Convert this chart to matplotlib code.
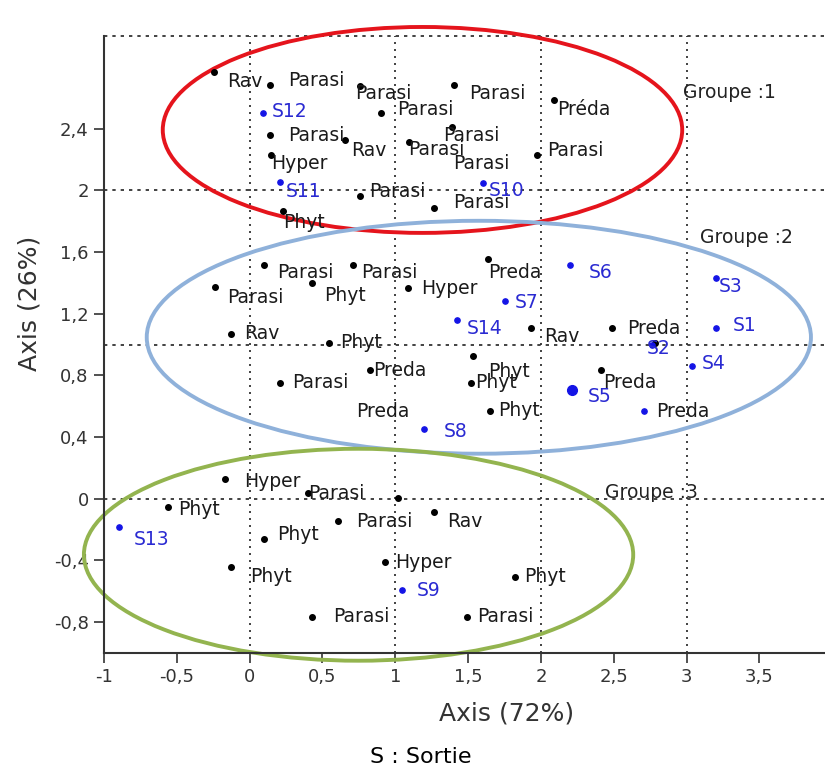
import matplotlib
matplotlib.use("Agg")
import matplotlib.pyplot as plt
from matplotlib.patches import Ellipse

# species points (black dots)
sp_x = [-0.247, 0.137, 0.755, 1.406, 0.905, 0.137, 0.658, 1.097, 1.391, 1.975, 2.092,
        0.144, 0.755, 1.269, 0.226,
        0.096, 0.713, -0.240, 0.425, 1.090, 1.639, -0.130, 0.542, 1.933, 2.490, 2.785,
        0.830, 0.206, 1.536, 1.523, 1.653, 2.414,
        -0.171, 0.398, 1.022, 1.269, -0.562, 0.604, 0.096, -0.130, 0.933, 0.425, 1.495, 1.824]
sp_y = [2.767, 2.683, 2.677, 2.683, 2.502, 2.359, 2.327, 2.314, 2.411, 2.229, 2.586,
        2.229, 1.963, 1.886, 1.867,
        1.517, 1.517, 1.374, 1.400, 1.367, 1.555, 1.069, 1.011, 1.108, 1.108, 1.011,
        0.835, 0.752, 0.927, 0.752, 0.571, 0.835,
        0.130, 0.039, 0.006, -0.084, -0.052, -0.143, -0.259, -0.441, -0.408, -0.765, -0.765, -0.506]
sp_lab = ["Rav", "Parasi", "Parasi", "Parasi", "Parasi", "Parasi", "Rav", "Parasi", "Parasi", "Parasi", "Préda",
          "Hyper", "Parasi", "Parasi", "Phyt",
          "Parasi", "Parasi", "Parasi", "Phyt", "Hyper", "Preda", "Rav", "Phyt", "Rav", "Preda", "",
          "Preda", "Parasi", "Phyt", "Phyt", "Phyt", "Preda",
          "Hyper", "Parasi", "", "Rav", "Phyt", "Parasi", "Phyt", "Phyt", "Hyper", "Parasi", "Parasi", "Phyt"]
# label offsets in pixels (dx right, dy down)
sp_off = [(13, 10), (19, -4), (-4, 8), (15, 9), (16, -3), (19, 1), (6, 11), (-1, 8), (-9, 9), (10, -4), (3, 10),
          (1, 9), (10, -4), (19, -5), (1, 12),
          (14, 8), (8, 8), (12, 11), (13, 13), (13, 1), (0, 14), (13, 0), (12, 0), (13, 9), (15, 1), (0, 0),
          (3, 1), (12, 0), (15, 16), (4, 0), (8, 0), (2, 13),
          (19, 3), (1, 1), (0, 0), (13, 10), (10, 3), (19, 1), (14, -4), (19, 10), (10, 1), (22, 0), (10, 0), (9, 0)]

# sorties (blue dots)
st_x = [0.089, 0.206, 1.605, 2.202, 3.203, 1.756, 1.426, 3.203, 2.765, 3.039, 2.216, 1.200, 2.709,
        -0.898, 1.049]
st_y = [2.502, 2.054, 2.048, 1.517, 1.432, 1.283, 1.160, 1.108, 1.000, 0.862, 0.706, 0.454, 0.571,
        -0.182, -0.590]
st_lab = ["S12", "S11", "S10", "S6", "S3", "S7", "S14", "S1", "S2", "S4", "S5", "S8", "Preda",
          "S13", "S9"]
st_off = [(9, -1), (6, 10), (5, 8), (18, 8), (3, 9), (9, 2), (9, 9), (17, -2), (-6, 4), (10, -2), (15, 7),
          (19, 3), (12, 1), (15, 13), (14, 1)]
st_size = [3.8] * 10 + [7] + [3.8] * 4

# labels whose dots are hidden
extra_x = [1.400, 0.734]
extra_y = [2.175, 0.564]
extra_lab = ["Parasi", "Preda"]

# group ellipses: centre, width, height
grp_names = ["Groupe :1", "Groupe :2", "Groupe :3"]
grp_cx = [1.187, 1.574, 0.748]
grp_cy = [2.391, 1.047, -0.363]
grp_w = [3.567, 4.561, 3.772]
grp_h = [1.335, 1.510, 1.374]
grp_col = ["#e5141c", "#8fb1da", "#93b44f"]
grp_tx = [2.977, 3.093, 2.442]
grp_ty = [2.631, 1.691, 0.039]

xticks = [-1, -0.5, 0, 0.5, 1, 1.5, 2, 2.5, 3, 3.5]
xticklabels = ["-1", "-0,5", "0", "0,5", "1", "1,5", "2", "2,5", "3", "3,5"]
yticks = [-0.8, -0.4, 0, 0.4, 0.8, 1.2, 1.6, 2, 2.4]
yticklabels = ["-0,8", "-0,4", "0", "0,4", "0,8", "1,2", "1,6", "2", "2,4"]

plt.rcParams['font.family'] = ['DejaVu Sans']

fig = plt.figure(figsize=(8.25, 7.71), dpi=100)
ax = fig.add_axes([104 / 825, 1 - 653 / 771, 1 - 104 / 825, (653 - 36) / 771])
ax.set_xlim(-1, 3.951)
ax.set_ylim(-1.0, 3.0)

# dotted reference lines
for v in [0, 1, 2, 3]:
    ax.axvline(v, color="#222222", lw=1.2, ls=(0, (1.2, 3)), zorder=1)
    ax.axhline(v, color="#222222", lw=1.2, ls=(0, (2, 3)), zorder=1, clip_on=False)

for i in range(3):
    e = Ellipse((grp_cx[i], grp_cy[i]), grp_w[i], grp_h[i], fill=False,
                edgecolor=grp_col[i], lw=2.8, clip_on=False, zorder=2)
    ax.add_patch(e)
    ax.text(grp_tx[i], grp_ty[i], grp_names[i], fontsize=13.5, color="#222222",
            ha="left", va="center", zorder=5)

ax.plot(sp_x, sp_y, "o", color="black", ms=4, zorder=4)
for x, y, t, (dx, dy) in zip(sp_x, sp_y, sp_lab, sp_off):
    if t:
        ax.annotate(t, (x, y), xytext=(dx, -dy), textcoords="offset pixels",
                    fontsize=13.5, color="#1a1a1a", ha="left", va="center", zorder=5)

for x, y, t, (dx, dy), s in zip(st_x, st_y, st_lab, st_off, st_size):
    ax.plot(x, y, "o", color="#1414e6", ms=s, zorder=4)
    c = "#2a2ad2" if t.startswith("S") else "#1a1a1a"
    ax.annotate(t, (x, y), xytext=(dx, -dy), textcoords="offset pixels",
                fontsize=13.5, color=c, ha="left", va="center", zorder=5)

for x, y, t in zip(extra_x, extra_y, extra_lab):
    ax.text(x, y, t, fontsize=13.5, color="#1a1a1a", ha="left", va="center", zorder=5)

ax.set_xticks(xticks)
ax.set_xticklabels(xticklabels)
ax.set_yticks(yticks)
ax.set_yticklabels(yticklabels)
ax.tick_params(axis="both", labelsize=13, colors="#333333", length=7, width=1.2, pad=4)
for s in ["top", "right"]:
    ax.spines[s].set_visible(False)
for s in ["left", "bottom"]:
    ax.spines[s].set_color("#333333")
    ax.spines[s].set_linewidth(1.5)

fig.text(507 / 825, 1 - 713 / 771, "Axis (72%)", fontsize=18, color="#333333", ha="center", va="center")
fig.text(30 / 825, 1 - 303 / 771, "Axis (26%)", fontsize=18, color="#333333", ha="center", va="center",
         rotation=90)
fig.text(421 / 825, 1 - 757 / 771, "S : Sortie", fontsize=16, color="black", ha="center", va="center")

fig.savefig("out.png", dpi=100)
